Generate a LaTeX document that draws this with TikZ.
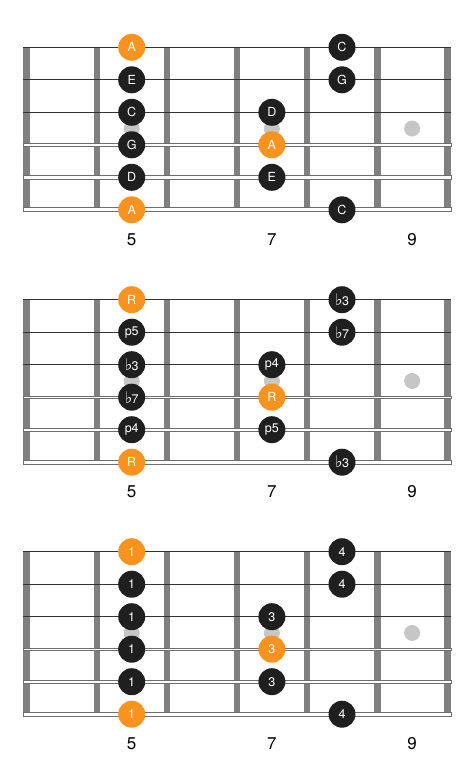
\documentclass[tikz,border=0pt]{standalone}
\usepackage{fontspec}
\setmainfont{TeX Gyre Heros}
\newfontfamily\symfont{DejaVu Sans}
\usepackage{tikz}
\usetikzlibrary{calc}
\definecolor{noteorange}{HTML}{F7931E}
\definecolor{notedark}{HTML}{1F1F1F}
\definecolor{fretgray}{HTML}{808080}
\definecolor{inlaygray}{HTML}{C6C6C6}
\definecolor{stringgray}{HTML}{6E6E6E}
\tikzset{dark note/.style={circle,fill=notedark,text=white,minimum size=27pt,inner sep=0pt,font=\fontsize{12.5}{13}\selectfont},
root note/.style={dark note,fill=noteorange},
fret label/.style={inner sep=0pt,font=\fontsize{17}{18}\selectfont},
plain string/.style={line width=1.3pt,draw=black!80},
wound string/.style={draw=stringgray,fill=white,line width=0.7pt}}
\newcommand{\fl}{{\symfont\fontsize{16}{16}\selectfont\char"266D}\kern-0.6pt}
% one empty neck: fret wires, inlays, strings
\newcommand{\fretboard}{%
\foreach \fretx in {26.7,96.8,166.9,237.0,307.1,377.2,447.3}
  \fill[fretgray] (\fretx-3.3,0) rectangle (\fretx+3.3,160);
\foreach \fretx in {131.7,271.9,412.1}
  \fill[inlaygray] (\fretx,81.25) circle (8pt);
\foreach \stringy in {0,32.5,65}
  \draw[plain string] (23.3,\stringy) -- (451,\stringy);
\filldraw[wound string] (23.3,96.3) rectangle (451,98.7);
\filldraw[wound string] (23.3,128.4) rectangle (451,131.6);
\filldraw[wound string] (23.3,160.5) rectangle (451,164.5);
}

\begin{document}
\begin{tikzpicture}[x=1pt,y=-1pt]
\useasboundingbox (0,0) rectangle (474,776);

% Neck 1: note names
\begin{scope}[shift={(0,47.3)}]
\fretboard
\node[root note] (n1-1-5) at (131.7,0) {A};
\node[dark note] (n1-1-8) at (342,0) {C};
\node[dark note] (n1-2-5) at (131.7,32.5) {E};
\node[dark note] (n1-2-8) at (342,32.5) {G};
\node[dark note] (n1-3-5) at (131.7,65) {C};
\node[dark note] (n1-3-7) at (271.9,65) {D};
\node[dark note] (n1-4-5) at (131.7,97.5) {G};
\node[root note] (n1-4-7) at (271.9,97.5) {A};
\node[dark note] (n1-5-5) at (131.7,130) {D};
\node[dark note] (n1-5-7) at (271.9,130) {E};
\node[root note] (n1-6-5) at (131.7,162.5) {A};
\node[dark note] (n1-6-8) at (342,162.5) {C};
\node[fret label] (l1-5) at (131.7,192) {5};
\node[fret label] (l1-7) at (271.9,192) {7};
\node[fret label] (l1-9) at (412.1,192) {9};
\end{scope}

% Neck 2: intervals
\begin{scope}[shift={(0,299.7)}]
\fretboard
\node[root note] (n2-1-5) at (131.7,0) {R};
\node[dark note] (n2-1-8) at (342,0) {\fl3};
\node[dark note] (n2-2-5) at (131.7,32.5) {p5};
\node[dark note] (n2-2-8) at (342,32.5) {\fl7};
\node[dark note] (n2-3-5) at (131.7,65) {\fl3};
\node[dark note] (n2-3-7) at (271.9,65) {p4};
\node[dark note] (n2-4-5) at (131.7,97.5) {\fl7};
\node[root note] (n2-4-7) at (271.9,97.5) {R};
\node[dark note] (n2-5-5) at (131.7,130) {p4};
\node[dark note] (n2-5-7) at (271.9,130) {p5};
\node[root note] (n2-6-5) at (131.7,162.5) {R};
\node[dark note] (n2-6-8) at (342,162.5) {\fl3};
\node[fret label] (l2-5) at (131.7,192) {5};
\node[fret label] (l2-7) at (271.9,192) {7};
\node[fret label] (l2-9) at (412.1,192) {9};
\end{scope}

% Neck 3: fingering
\begin{scope}[shift={(0,551.7)}]
\fretboard
\node[root note] (n3-1-5) at (131.7,0) {1};
\node[dark note] (n3-1-8) at (342,0) {4};
\node[dark note] (n3-2-5) at (131.7,32.5) {1};
\node[dark note] (n3-2-8) at (342,32.5) {4};
\node[dark note] (n3-3-5) at (131.7,65) {1};
\node[dark note] (n3-3-7) at (271.9,65) {3};
\node[dark note] (n3-4-5) at (131.7,97.5) {1};
\node[root note] (n3-4-7) at (271.9,97.5) {3};
\node[dark note] (n3-5-5) at (131.7,130) {1};
\node[dark note] (n3-5-7) at (271.9,130) {3};
\node[root note] (n3-6-5) at (131.7,162.5) {1};
\node[dark note] (n3-6-8) at (342,162.5) {4};
\node[fret label] (l3-5) at (131.7,192) {5};
\node[fret label] (l3-7) at (271.9,192) {7};
\node[fret label] (l3-9) at (412.1,192) {9};
\end{scope}

\end{tikzpicture}
\end{document}
